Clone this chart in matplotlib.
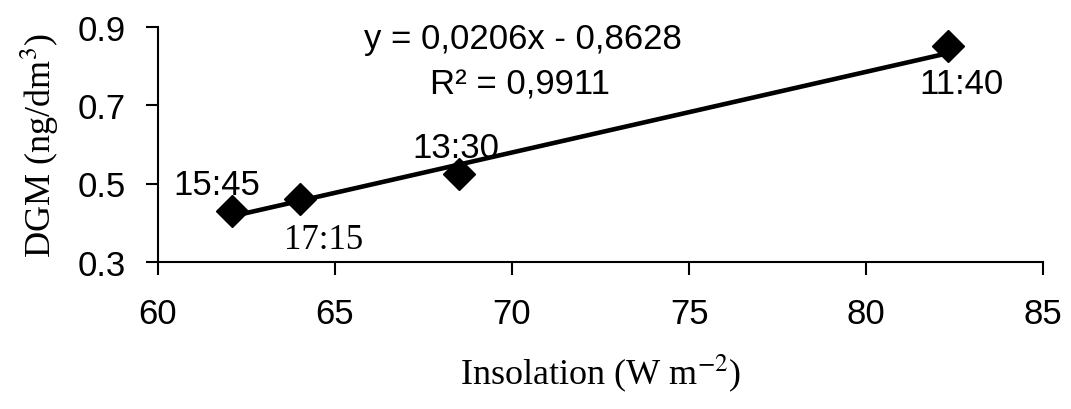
import matplotlib
matplotlib.use("Agg")
import matplotlib.pyplot as plt
import numpy as np

plt.rcParams["mathtext.fontset"] = "stix"

# data
insolation = [62.1, 64.0, 68.5, 82.3]
dgm = [0.43, 0.46, 0.525, 0.85]
times = ["15:45", "17:15", "13:30", "11:40"]
slope, intercept = 0.0206, -0.8628
r2 = "0,9911"

xticks = [60, 65, 70, 75, 80, 85]
yticks = [0.3, 0.5, 0.7, 0.9]

fig = plt.figure(figsize=(10.71, 4.10), dpi=100)
ax = fig.add_axes([0.1475, 0.359, 0.8265, 0.573])

# trend line from the fitted equation
xl = np.array([min(insolation), max(insolation)])
ax.plot(xl, slope * xl + intercept, color="black", lw=3.3, solid_capstyle="butt")
ax.plot(insolation, dgm, linestyle="none", marker="D", ms=16, color="black")

# point labels (offsets in points)
sans = "Liberation Sans"
serif = "Liberation Serif"
offs = {"15:45": (-11, 19, sans), "17:15": (17, -29, serif),
        "13:30": (-2, 19, sans), "11:40": (10, -27, sans)}
for x, y, t in zip(insolation, dgm, times):
    dx, dy, fam = offs[t]
    ax.annotate(t, (x, y), xytext=(dx, dy), textcoords="offset points",
                ha="center", va="center", fontsize=25, family=fam)

ax.text(0.412, 0.949, "y = 0,0206x - 0,8628", transform=ax.transAxes,
        ha="center", va="center", fontsize=25, family=sans)
ax.text(0.409, 0.757, "R² = " + r2, transform=ax.transAxes,
        ha="center", va="center", fontsize=25, family=sans)

ax.set_xlim(60, 85)
ax.set_ylim(0.3, 0.9)
ax.set_xticks(xticks)
ax.set_yticks(yticks)
ax.set_xticklabels([str(v) for v in xticks], family=sans, fontsize=25)
ax.set_yticklabels([f"{v:.1f}" for v in yticks], family=sans, fontsize=25)
ax.tick_params(axis="x", length=9, width=1.5, pad=16, direction="out")
ax.tick_params(axis="y", length=9, width=1.5, pad=14, direction="out")
ax.spines["top"].set_visible(False)
ax.spines["right"].set_visible(False)
ax.spines["left"].set_linewidth(1.5)
ax.spines["bottom"].set_linewidth(1.5)

ax.set_xlabel("Insolation (W m$^{-2}$)", family=serif, fontsize=26, labelpad=16)
ax.set_ylabel("DGM (ng/dm$^3$)", family=serif, fontsize=26, labelpad=12)

fig.savefig("out.png", dpi=100)
